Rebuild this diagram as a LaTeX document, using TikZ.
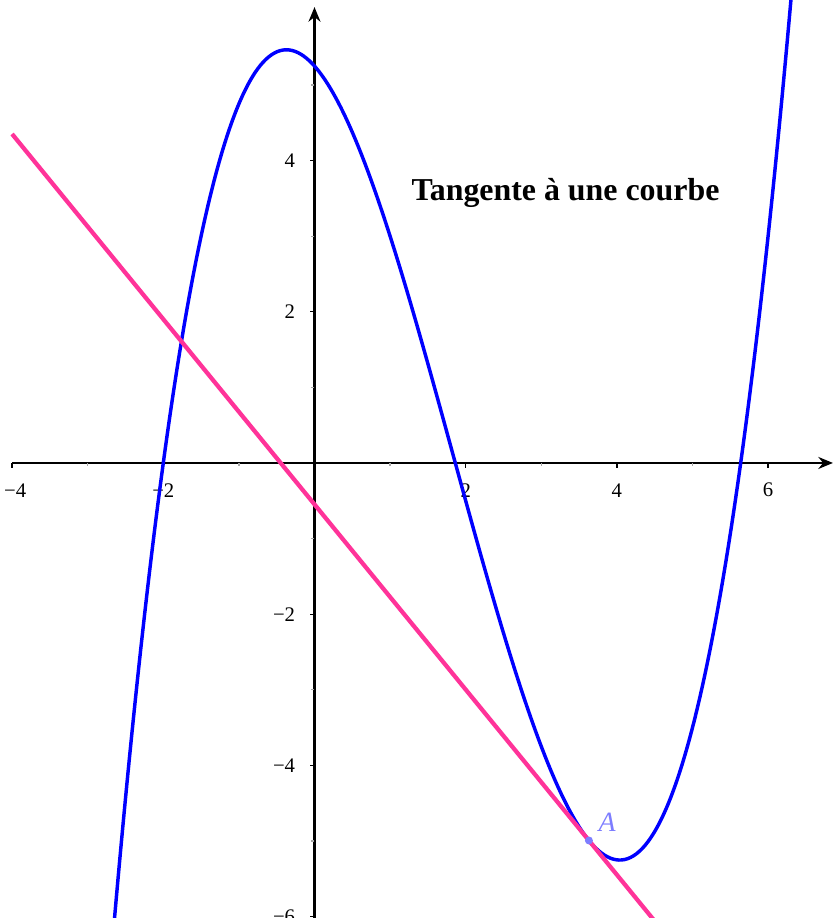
\documentclass[tikz,border=0pt]{standalone}
\usepackage{fontspec}
\setmainfont{Liberation Serif}
\usetikzlibrary{arrows.meta}
\definecolor{curveblue}{RGB}{0,0,255}
\definecolor{tanpink}{RGB}{255,51,153}
\definecolor{ptblue}{RGB}{125,125,255}
\begin{document}
\begin{tikzpicture}[x=1cm,y=1cm,
  axisline/.style={black,line width=0.8pt},
  majortick/.style={black,line width=0.5pt},
  minortick/.style={gray!70,line width=0.5pt},
  xlab/.style={anchor=center,inner sep=0pt,font=\fontsize{7.8}{8}\selectfont},
  ylab/.style={anchor=east,inner sep=0pt,font=\fontsize{7.8}{8}\selectfont},
  curvestyle/.style={curveblue,line width=1.3pt},
  tanstyle/.style={tanpink,line width=1.6pt},
]
\useasboundingbox (-4.16,-6.019) rectangle (6.858,6.124);
\begin{scope}
\clip (-4.16,-6.019) rectangle (6.858,6.124);
% axes
\coordinate (xs) at (-4,0);
\coordinate (xe) at (6.858,0);
\coordinate (ys) at (0,-6.03);
\coordinate (ye) at (0,6.03);
\draw[axisline,-{Stealth[length=5.5pt,width=4.5pt]}] (xs) -- (xe);
\draw[axisline,-{Stealth[length=5.5pt,width=4.5pt]}] (ys) -- (ye);
% ticks
\foreach \t in {-4,-2,2,4,6} \draw[majortick] (\t,0) -- (\t,-0.06);
\foreach \t in {-3,-1,1,3,5} \draw[minortick] (\t,0) -- (\t,-0.045);
\foreach \t in {-6,-4,-2,2,4} \draw[majortick] (0,\t) -- (-0.06,\t);
\foreach \t in {-5,-3,-1,1,3,5} \draw[minortick] (0,\t) -- (-0.045,\t);
% labels
\node[xlab] (lxm4) at (-3.96,-0.36) {−4};
\node[xlab] (lxm2) at (-2,-0.36) {−2};
\node[xlab] (lx2) at (2,-0.36) {2};
\node[xlab] (lx4) at (4,-0.36) {4};
\node[xlab] (lx6) at (6,-0.36) {6};
\node[ylab] (ly4) at (-0.25,4) {4};
\node[ylab] (ly2) at (-0.25,2) {2};
\node[ylab] (lym2) at (-0.25,-2) {−2};
\node[ylab] (lym4) at (-0.25,-4) {−4};
\node[ylab] (lym6) at (-0.25,-6) {−6};
% curve
\draw[curvestyle] plot[domain=-2.75:6.4,samples=240,smooth]
  (\x,{(2*\x*\x*\x-11*\x*\x-9*\x+42)/8});
% tangent
\coordinate (T1) at (-4,4.3515);
\coordinate (T2) at (4.7,-6.3046);
\draw[tanstyle] (T1) -- (T2);
% point A
\coordinate (A) at (3.63,-4.994);
\fill[ptblue] (A) circle (1.5pt);
\node[text=ptblue,inner sep=0pt,font=\fontsize{10.5}{12}\selectfont\itshape] (Alab) at (3.87,-4.75) {A};
% title
\node[inner sep=0pt,font=\fontsize{12}{14}\selectfont\bfseries] (title) at (3.32,3.57) {Tangente à une courbe};
\end{scope}
\end{tikzpicture}
\end{document}
